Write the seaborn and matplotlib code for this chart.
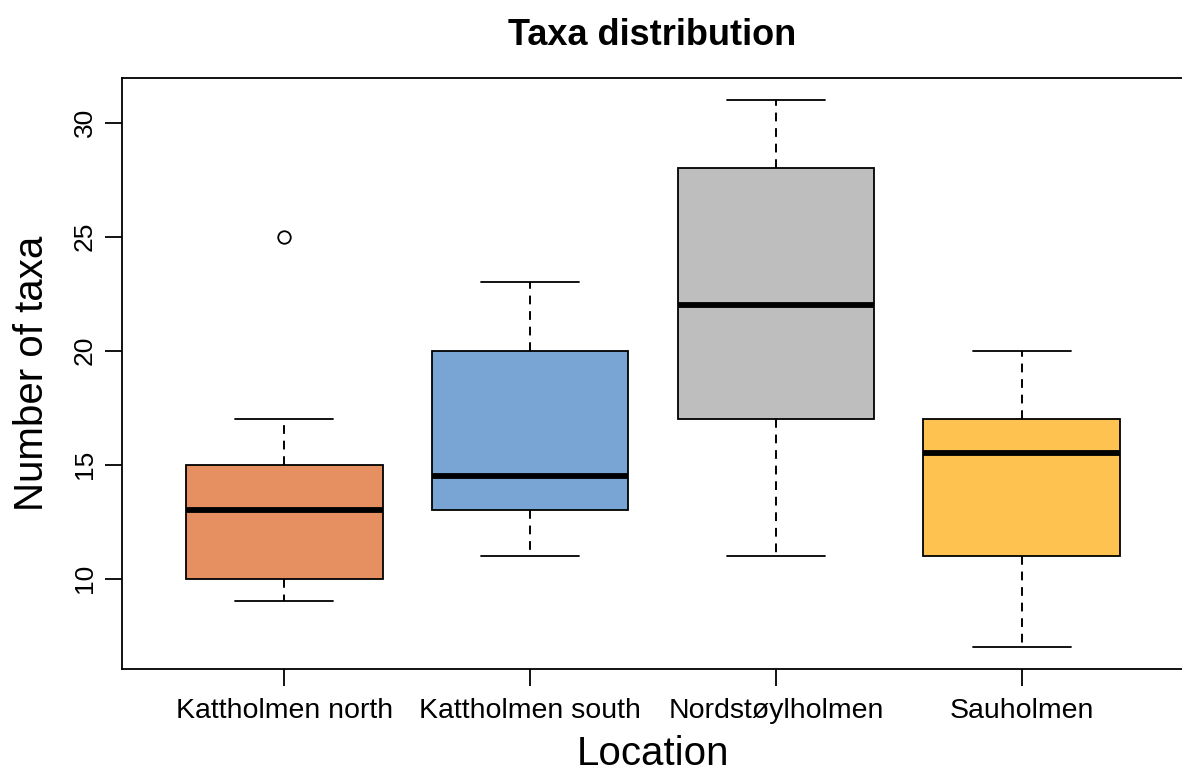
import matplotlib
matplotlib.use("Agg")
import matplotlib.pyplot as plt
import seaborn as sns

# Five-number summaries per location (whisker low, Q1, median, Q3, whisker high)
locations = ["Kattholmen north", "Kattholmen south", "Nordstøylholmen", "Sauholmen"]
whisker_low = [9, 11, 11, 7]
q1 = [10, 13, 17, 11]
median = [13, 14.5, 22, 15.5]
q3 = [15, 20, 28, 17]
whisker_high = [17, 23, 31, 20]
outliers = [[25], [], [], []]
colors = ["#E69061", "#78A5D3", "#BEBEBE", "#FDC24F"]

sns.set_style("ticks")
plt.rcParams["font.family"] = ["Liberation Sans", "DejaVu Sans"]
plt.rcParams["text.color"] = "black"
plt.rcParams["axes.labelcolor"] = "black"

fig = plt.figure(figsize=(11.82, 7.75), dpi=100)
ax = fig.add_axes([0.1032, 0.1368, 0.8985, 0.7626])

stats = []
for i, name in enumerate(locations):
    stats.append(dict(label=name, whislo=whisker_low[i], q1=q1[i], med=median[i],
                      q3=q3[i], whishi=whisker_high[i], fliers=outliers[i]))

bp = ax.bxp(stats, positions=range(1, len(locations) + 1), widths=0.8,
            patch_artist=True, showfliers=True,
            boxprops=dict(edgecolor="black", linewidth=1.3),
            medianprops=dict(color="black", linewidth=4.2, solid_capstyle="butt"),
            whiskerprops=dict(color="black", linewidth=1.4, linestyle=(0, (4.5, 3.5))),
            capprops=dict(color="black", linewidth=1.3),
            capwidths=0.4,
            flierprops=dict(marker="o", markerfacecolor="none", markeredgecolor="black",
                            markersize=9, markeredgewidth=1.3))
for patch, c in zip(bp["boxes"], colors):
    patch.set_facecolor(c)

ax.set_xlim(0.34, 4.66)
ax.set_ylim(6.04, 31.96)
ax.set_yticks([10, 15, 20, 25, 30])
ax.set_xticks(range(1, len(locations) + 1))
ax.set_xticklabels(locations)
for s in ax.spines.values():
    s.set_visible(True)
    s.set_color("black")
    s.set_linewidth(1.3)
ax.tick_params(axis="both", which="both", direction="out", length=12, width=1.3,
               color="black", labelcolor="black", bottom=True, left=True,
               top=False, right=False)
ax.tick_params(axis="x", labelsize=20.5, pad=9)
ax.tick_params(axis="y", labelsize=19, pad=6)
for lab in ax.get_yticklabels():
    lab.set_rotation(90)
    lab.set_va("center")

ax.set_xlabel("Location", fontsize=29, labelpad=8)
ax.set_ylabel("Number of taxa", fontsize=29, labelpad=16)
fig.suptitle("Taxa distribution", fontsize=26, fontweight="bold", x=0.552, y=0.977)

fig.savefig("out.png", dpi=100)
